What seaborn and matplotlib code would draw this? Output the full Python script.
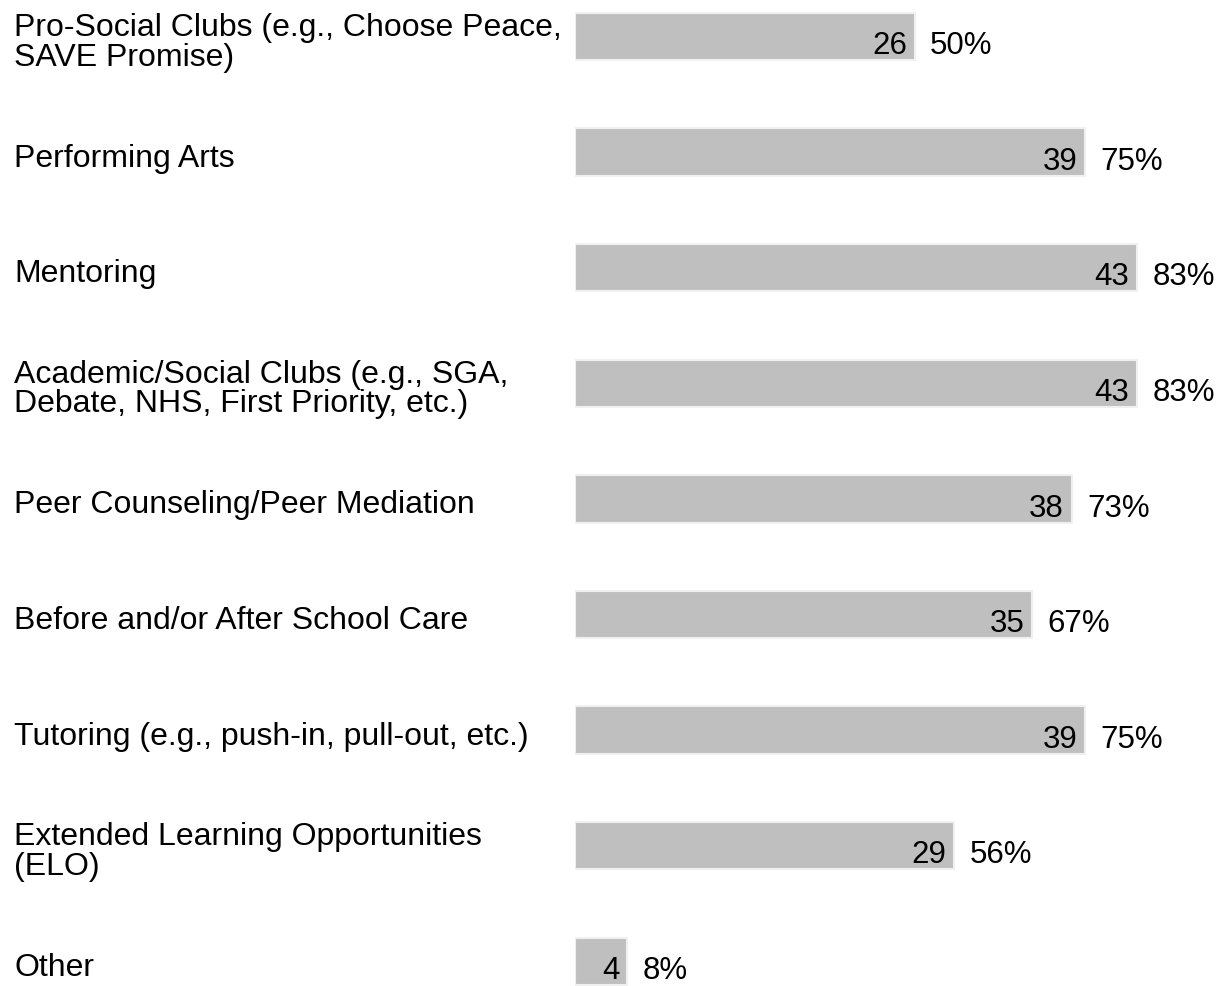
import matplotlib
matplotlib.use("Agg")
import matplotlib.pyplot as plt
import matplotlib.transforms as mtransforms
import seaborn as sns
import pandas as pd

# Data
categories = [
    "Pro-Social Clubs (e.g., Choose Peace,\nSAVE Promise)",
    "Performing Arts",
    "Mentoring",
    "Academic/Social Clubs (e.g., SGA,\nDebate, NHS, First Priority, etc.)",
    "Peer Counseling/Peer Mediation",
    "Before and/or After School Care",
    "Tutoring (e.g., push-in, pull-out, etc.)",
    "Extended Learning Opportunities\n(ELO)",
    "Other",
]
counts = [26, 39, 43, 43, 38, 35, 39, 29, 4]
percents = [50, 75, 83, 83, 73, 67, 75, 56, 8]

W, H, DPI = 1219, 986, 100
LABEL_FONT = 23
VALUE_FONT = 22.5

sns.set_style("white")
plt.rcParams["font.family"] = ["Liberation Sans", "DejaVu Sans"]

df = pd.DataFrame({"Category": categories, "Count": counts, "Percent": percents})

fig = plt.figure(figsize=(W / DPI, H / DPI), dpi=DPI)
ax = fig.add_axes([575 / W, 0, 1 - 575 / W, 1])

sns.barplot(data=df, x="Count", y="Category", orient="h", color="#bfbfbf",
            saturation=1, width=0.41, edgecolor="#f0f0f0", linewidth=1.5, ax=ax)

px_per_unit = 562 / 43
ax.set_xlim(0, (W - 575) / px_per_unit)
row = 115.6
ax.set_ylim(8 + (H - 961.3) / row, -36.5 / row)

# value labels: count inside bar end, percent outside (sit a bit low, as in the source)
for i, (c, p) in enumerate(zip(counts, percents)):
    ax.annotate(str(c), (c, i), xytext=(-5.5, -7), textcoords="offset points",
                ha="right", va="center", fontsize=VALUE_FONT, color="black")
    ax.annotate(f"{p}%", (c, i), xytext=(11, -7), textcoords="offset points",
                ha="left", va="center", fontsize=VALUE_FONT, color="black")

# category labels, left aligned at the figure edge
ax.set_yticks(range(len(categories)))
ax.set_yticklabels(categories, fontsize=LABEL_FONT, linespacing=0.98, color="black")
ax.tick_params(axis="y", length=0, pad=(575 - 14) * 72 / DPI)
shift = mtransforms.ScaledTranslation(0, -3 / DPI, fig.dpi_scale_trans)
for lab in ax.get_yticklabels():
    lab.set_horizontalalignment("left")
    lab.set_transform(lab.get_transform() + shift)

ax.set_xlabel("")
ax.set_ylabel("")
ax.set_xticks([])
sns.despine(ax=ax, left=True, bottom=True)

fig.savefig("out.png", dpi=DPI, facecolor="white")
